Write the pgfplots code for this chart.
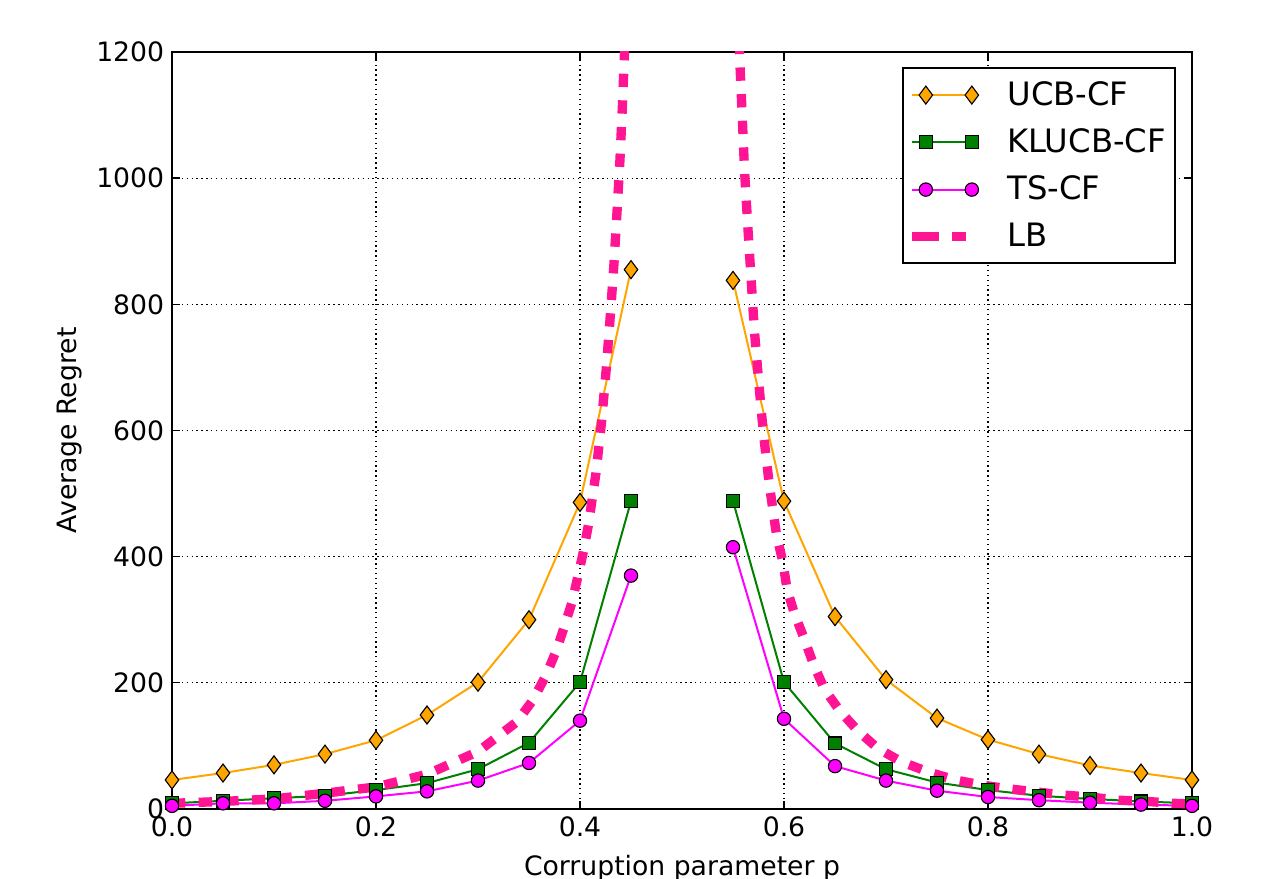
\documentclass[border=0pt]{standalone}
\usepackage{fontspec}
\setmainfont{DejaVu Sans}
\usepackage{pgfplots}
\pgfplotsset{compat=1.18}
\definecolor{ucb}{RGB}{255,165,0}
\definecolor{klucb}{RGB}{0,128,0}
\definecolor{ts}{RGB}{255,0,255}
\definecolor{lb}{RGB}{255,20,147}

\begin{document}
\begin{tikzpicture}
\begin{axis}[
    scale only axis,
    width=459pt, height=340.65pt,
    xmin=0, xmax=1, ymin=0, ymax=1200,
    xtick={0,0.2,0.4,0.6,0.8,1},
    ytick={0,200,400,600,800,1000,1200},
    xticklabel style={/pgf/number format/.cd, fixed, fixed zerofill, precision=1},
    yticklabel style={/pgf/number format/1000 sep={}},
    /pgf/number format/assume math mode=true,
    tick label style={font=\fontsize{12}{14}\selectfont},
    label style={font=\fontsize{12}{14}\selectfont},
    xlabel={Corruption parameter p},
    ylabel={Average Regret},
    xlabel style={at={(axis description cs:0.5,-0.0872)}, anchor=base},
    ylabel style={at={(axis description cs:-0.0934,0.5)}, anchor=base},
    grid=major,
    grid style={black, line width=0.5pt, dash pattern=on 0.6pt off 1.6pt},
    axis line style={line width=0.9pt},
    tick style={black, line width=0.6pt},
    major tick length=3.6pt,
    unbounded coords=jump,
    legend cell align=left,
    legend style={at={(0.984,0.980)}, anchor=north east, draw=black, line width=0.9pt,
        font=\fontsize{14.5}{17}\selectfont, row sep=5pt, inner xsep=2pt, inner ysep=4pt,
        /tikz/every odd column/.append style={column sep=11pt}},
    legend image code/.code={
        \path (0pt,0pt) -- (6pt,0pt);
        \draw[#1] plot coordinates {(6pt,0pt) (26.7pt,0pt)};},
]
\addplot[color=ucb, line width=0.9pt, mark=diamond*, mark size=4.05pt,
    mark options={fill=ucb, draw=black, line width=0.5pt, solid}] coordinates {
    (0,46) (0.05,57) (0.1,70) (0.15,87) (0.2,109) (0.25,149) (0.3,201) (0.35,300)
    (0.4,486) (0.45,855) (0.5,nan) (0.55,838) (0.6,488) (0.65,305) (0.7,205)
    (0.75,144) (0.8,110) (0.85,87) (0.9,69) (0.95,57) (1.0,46)
};
\addlegendentry{UCB-CF}
\addplot[color=klucb, line width=0.9pt, mark=square*, mark size=2.9pt,
    mark options={fill=klucb, draw=black, line width=0.5pt, solid}] coordinates {
    (0,9) (0.05,13) (0.1,17) (0.15,21) (0.2,30) (0.25,41) (0.3,63) (0.35,105)
    (0.4,201) (0.45,488) (0.5,nan) (0.55,488) (0.6,201) (0.65,104) (0.7,63)
    (0.75,42) (0.8,30) (0.85,21) (0.9,16) (0.95,12) (1.0,9)
};
\addlegendentry{KLUCB-CF}
\addplot[color=ts, line width=0.9pt, mark=*, mark size=3pt,
    mark options={fill=ts, draw=black, line width=0.5pt, solid}] coordinates {
    (0,5) (0.05,9) (0.1,9) (0.15,13) (0.2,20) (0.25,28) (0.3,45) (0.35,73)
    (0.4,140) (0.45,370) (0.5,nan) (0.55,415) (0.6,143) (0.65,68) (0.7,45)
    (0.75,29) (0.8,19) (0.85,14) (0.9,10) (0.95,7) (1.0,5)
};
\addlegendentry{TS-CF}
\addplot[color=lb, line width=4.2pt, dash pattern=on 6pt off 6pt, no markers] coordinates {
    (0,9) (0.05,12) (0.1,16) (0.15,25) (0.2,35) (0.25,55) (0.3,91) (0.338,138)
    (0.354,173) (0.367,213) (0.377,252) (0.385,291) (0.392,327) (0.398,369)
    (0.4036,410) (0.4082,450) (0.4157,533) (0.4212,615) (0.4258,699) (0.4297,782)
    (0.4333,864) (0.4363,947) (0.4392,1030) (0.4415,1112) (0.4435,1194) (0.4450,1260)
};
\addlegendentry{LB}
\addplot[color=lb, line width=4.2pt, dash pattern=on 6pt off 6pt, no markers, forget plot] coordinates {
    (0.5550,1260) (0.5569,1177) (0.5592,1092) (0.5614,1009) (0.5644,926) (0.5676,844)
    (0.5709,760) (0.5752,677) (0.5797,597) (0.5856,514) (0.5928,433) (0.599,391)
    (0.603,348) (0.610,311) (0.620,269) (0.629,229) (0.640,189) (0.655,155)
    (0.673,123) (0.692,96) (0.715,75) (0.741,59) (0.768,46) (0.794,38) (0.820,32)
    (0.848,27) (0.874,22) (0.900,19) (0.928,14) (0.956,12) (0.982,9) (1.0,8)
};
\end{axis}
\pgfresetboundingbox
\path ([xshift=-77.4pt,yshift=-31.5pt]current axis.south west)
    rectangle ([xshift=36pt,yshift=23.4pt]current axis.north east);
\end{tikzpicture}
\end{document}
